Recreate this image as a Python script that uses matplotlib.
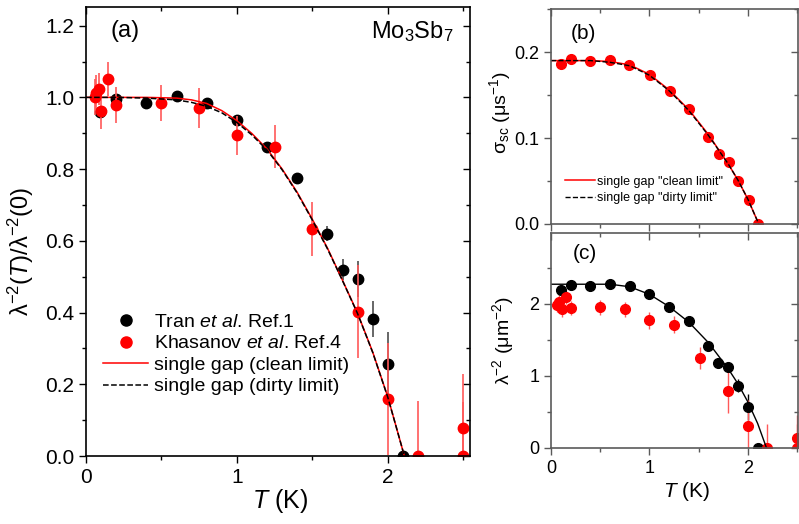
import numpy as np
import matplotlib
matplotlib.use("Agg")
import matplotlib.pyplot as plt
from matplotlib.lines import Line2D
from matplotlib.ticker import MultipleLocator, NullFormatter

plt.rcParams['font.family'] = ['Liberation Sans', 'DejaVu Sans']
plt.rcParams['mathtext.fontset'] = 'custom'
plt.rcParams['mathtext.rm'] = 'Liberation Sans'
plt.rcParams['mathtext.it'] = 'Liberation Sans:italic'
plt.rcParams['mathtext.default'] = 'regular'

# ---- panel (a): normalised superfluid density ----
tran_T = [0.09, 0.2, 0.4, 0.6, 0.8, 1.0, 1.2, 1.4, 1.6, 1.7, 1.8, 1.9, 2.0, 2.1]
tran_v = [0.959, 0.995, 0.985, 1.003, 0.985, 0.937, 0.862, 0.775, 0.62, 0.52, 0.493, 0.382, 0.256, 0.0]
tran_e = [0.01, 0.01, 0.01, 0.01, 0.01, 0.012, 0.012, 0.012, 0.02, 0.03, 0.05, 0.05, 0.09, 0.01]

khas_T = [0.06, 0.065, 0.088, 0.10, 0.148, 0.2, 0.5, 0.75, 1.0, 1.25, 1.5, 1.8, 2.0, 2.2, 2.5, 2.5]
khas_v = [1.0, 1.011, 1.024, 0.962, 1.052, 0.978, 0.984, 0.970, 0.894, 0.862, 0.632, 0.402, 0.159, 0.0, 0.0, 0.077]
khas_e = [0.05, 0.05, 0.045, 0.05, 0.047, 0.05, 0.05, 0.055, 0.055, 0.06, 0.075, 0.13, 0.155, 0.153, 0.15, 0.153]

fitA_T = [0, 0.2, 0.4, 0.6, 0.7, 0.8, 0.9, 1.0, 1.1, 1.2, 1.3, 1.4, 1.5, 1.6, 1.7, 1.8, 1.9, 2.0, 2.05, 2.11]
cleanA = [1.0, 1.0, 1.0, 0.998, 0.993, 0.983, 0.963, 0.935, 0.899, 0.856, 0.80, 0.735, 0.66, 0.58, 0.49, 0.398, 0.29, 0.165, 0.09, 0.0]
dirtyA = [1.0, 1.0, 0.998, 0.993, 0.986, 0.975, 0.957, 0.930, 0.895, 0.853, 0.798, 0.733, 0.658, 0.578, 0.489, 0.397, 0.289, 0.164, 0.09, 0.0]

# ---- panel (b): sigma_sc ----
sig_T = [0.098, 0.2, 0.396, 0.6, 0.795, 1.005, 1.21, 1.40, 1.60, 1.706, 1.81, 1.905, 2.007, 2.105]
sig_v = [0.186, 0.192, 0.190, 0.191, 0.185, 0.173, 0.155, 0.134, 0.101, 0.0814, 0.0725, 0.0504, 0.028, 0.0]
sig_e = [0.002, 0.002, 0.002, 0.002, 0.002, 0.002, 0.002, 0.002, 0.003, 0.003, 0.003, 0.004, 0.005, 0.003]

fitB_T = [0, 0.4, 0.6, 0.8, 1.0, 1.2, 1.4, 1.6, 1.8, 1.9, 2.0, 2.1, 2.11]
cleanB = [0.19, 0.19, 0.189, 0.185, 0.174, 0.156, 0.133, 0.104, 0.07, 0.051, 0.029, 0.003, 0.0]
dirtyB = [0.19, 0.19, 0.188, 0.184, 0.173, 0.155, 0.132, 0.103, 0.07, 0.051, 0.029, 0.003, 0.0]

# ---- panel (c): lambda^-2 ----
lamT_T = [0.098, 0.2, 0.4, 0.6, 0.8, 1.0, 1.2, 1.4, 1.6, 1.7, 1.8, 1.9, 2.0, 2.1]
lamT_v = [2.19, 2.26, 2.245, 2.28, 2.24, 2.13, 1.96, 1.76, 1.41, 1.18, 1.12, 0.86, 0.57, 0.0]
lamT_e = [0.03, 0.03, 0.03, 0.03, 0.03, 0.03, 0.03, 0.03, 0.04, 0.05, 0.06, 0.09, 0.18, 0.02]

lamK_T = [0.064, 0.085, 0.11, 0.148, 0.2, 0.5, 0.75, 1.0, 1.25, 1.51, 1.8, 2.0, 2.2, 2.5, 2.5]
lamK_v = [1.98, 2.03, 1.92, 2.09, 1.94, 1.95, 1.92, 1.77, 1.71, 1.25, 0.79, 0.31, 0.0, 0.0, 0.14]
lamK_e = [0.1, 0.1, 0.1, 0.1, 0.1, 0.1, 0.1, 0.12, 0.12, 0.15, 0.3, 0.35, 0.33, 0.33, 0.32]

fitC_T = [0, 0.6, 0.8, 1.0, 1.2, 1.4, 1.6, 1.8, 1.9, 2.0, 2.1, 2.19]
fitC_v = [2.27, 2.27, 2.235, 2.13, 1.96, 1.745, 1.46, 1.10, 0.89, 0.64, 0.34, 0.0]

W, H = 799, 524
fig = plt.figure(figsize=(W / 100, H / 100), dpi=100)

def box(l, r, t, b):
    return [l / W, 1 - b / H, (r - l) / W, (b - t) / H]

axA = fig.add_axes(box(86, 470, 7, 456))
axB = fig.add_axes(box(551, 798, 9, 224))
axC = fig.add_axes(box(551, 798, 233, 448))

def style(ax, col, fs):
    for s in ax.spines.values():
        s.set_color(col)
        s.set_linewidth(1.2)
    ax.tick_params(which='both', direction='out', color=col, labelsize=fs, width=1.0)
    ax.tick_params(which='major', length=5)
    ax.tick_params(which='minor', length=3)
    # inward ticks on top / right
    top = ax.secondary_xaxis('top')
    right = ax.secondary_yaxis('right')
    for sec in (top, right):
        sec.spines[:].set_visible(False)
        sec.tick_params(which='both', direction='in', color=col, labelsize=0, width=1.0)
        sec.tick_params(which='major', length=5)
        sec.tick_params(which='minor', length=3)
    top.xaxis.set_major_locator(ax.xaxis.get_major_locator())
    top.xaxis.set_minor_locator(ax.xaxis.get_minor_locator())
    top.xaxis.set_major_formatter(NullFormatter())
    right.yaxis.set_major_locator(ax.yaxis.get_major_locator())
    right.yaxis.set_minor_locator(ax.yaxis.get_minor_locator())
    right.yaxis.set_major_formatter(NullFormatter())

# panel (a)
axA.errorbar(tran_T, tran_v, yerr=tran_e, fmt='o', color='black', ms=7.5,
             ecolor=(0.3, 0.3, 0.3), elinewidth=1.2, zorder=2)
axA.errorbar(khas_T, khas_v, yerr=khas_e, fmt='o', color='red', ms=7.5,
             ecolor=(1, 0.35, 0.35), elinewidth=1.2, zorder=3)
axA.plot(fitA_T, cleanA, '-', color='red', lw=1.1, zorder=4)
axA.plot(fitA_T, dirtyA, '--', color='black', lw=1.1, zorder=4)
axA.set_xlim(0, 2.545)
axA.set_ylim(0, 1.252)
axA.xaxis.set_major_locator(MultipleLocator(1))
axA.xaxis.set_minor_locator(MultipleLocator(0.5))
axA.yaxis.set_major_locator(MultipleLocator(0.2))
axA.yaxis.set_minor_locator(MultipleLocator(0.1))
axA.yaxis.set_major_formatter(plt.FormatStrFormatter('%.1f'))
style(axA, 'black', 15)
axA.set_xlabel('$\\mathit{T}$ (K)', fontsize=18)
axA.xaxis.set_label_coords(0.505, -0.07)
axA.set_ylabel('λ$^{-2}$($\\mathit{T}$)/λ$^{-2}$(0)', fontsize=17)
axA.yaxis.set_label_coords(-0.13, 0.455)
axA.text(0.0625, 0.972, '(a)', transform=axA.transAxes, fontsize=17, va='top', ha='left')
axA.text(0.958, 0.972, 'Mo$_3$Sb$_7$', transform=axA.transAxes, fontsize=17, va='top', ha='right')
legA = [Line2D([], [], ls='none', marker='o', color='black', ms=8),
        Line2D([], [], ls='none', marker='o', color='red', ms=8),
        Line2D([], [], ls='-', color='red', lw=1.1),
        Line2D([], [], ls='--', color='black', lw=1.1)]
labA = ['Tran $\\mathit{et\\ al}$. Ref.1', 'Khasanov $\\mathit{et\\ al}$. Ref.4',
        'single gap (clean limit)', 'single gap (dirty limit)']
axA.legend(legA, labA, loc='upper left', bbox_to_anchor=(0.045, 0.318), frameon=False, fontsize=14,
           handlelength=2.3, handletextpad=0.3, labelspacing=0.2, borderpad=0, borderaxespad=0)

# panel (b)
gray = '#5a5a5a'
axB.errorbar(sig_T, sig_v, yerr=sig_e, fmt='o', color='red', ms=7, ecolor='red', elinewidth=1.0, zorder=2)
axB.plot(fitB_T, cleanB, '-', color='red', lw=1.1, label='single gap "clean limit"', zorder=3)
axB.plot(fitB_T, dirtyB, '--', color='black', lw=1.0, label='single gap "dirty limit"', zorder=3)
axB.set_xlim(0, 2.51)
axB.set_ylim(0, 0.25)
axB.xaxis.set_major_locator(MultipleLocator(1))
axB.xaxis.set_minor_locator(MultipleLocator(0.5))
axB.xaxis.set_major_formatter(NullFormatter())
axB.yaxis.set_major_locator(MultipleLocator(0.1))
axB.yaxis.set_minor_locator(MultipleLocator(0.05))
axB.yaxis.set_major_formatter(plt.FormatStrFormatter('%.1f'))
style(axB, gray, 13)
axB.set_ylabel('σ$_{sc}$ (μs$^{-1}$)', fontsize=14)
axB.yaxis.set_label_coords(-0.155, 0.52)
axB.text(0.08, 0.93, '(b)', transform=axB.transAxes, fontsize=15, va='top', ha='left')
axB.legend(loc='upper left', bbox_to_anchor=(0.055, 0.225), frameon=False, fontsize=9,
           handlelength=2.4, handletextpad=0.2, labelspacing=0.35, borderpad=0, borderaxespad=0)

# panel (c)
axC.errorbar(lamT_T, lamT_v, yerr=lamT_e, fmt='o', color='black', ms=7, ecolor='black', elinewidth=1.0, zorder=2)
axC.errorbar(lamK_T, lamK_v, yerr=lamK_e, fmt='o', color='red', ms=7, ecolor=(1, 0.35, 0.35), elinewidth=1.0, zorder=2)
axC.plot(fitC_T, fitC_v, '-', color='black', lw=1.0, zorder=3)
axC.set_xlim(0, 2.51)
axC.set_ylim(0, 2.98)
axC.xaxis.set_major_locator(MultipleLocator(1))
axC.xaxis.set_minor_locator(MultipleLocator(0.5))
axC.yaxis.set_major_locator(MultipleLocator(1))
axC.yaxis.set_minor_locator(MultipleLocator(0.5))
style(axC, gray, 13)
axC.set_xlabel('$\\mathit{T}$ (K)', fontsize=15)
axC.xaxis.set_label_coords(0.55, -0.15)
axC.set_ylabel('λ$^{-2}$ (μm$^{-2}$)', fontsize=14)
axC.yaxis.set_label_coords(-0.14, 0.5)
axC.text(0.09, 0.95, '(c)', transform=axC.transAxes, fontsize=15, va='top', ha='left')

for ax in (axA, axB, axC):
    for s in ax.spines.values():
        s.set_zorder(5)

fig.savefig('out.png', dpi=100)
